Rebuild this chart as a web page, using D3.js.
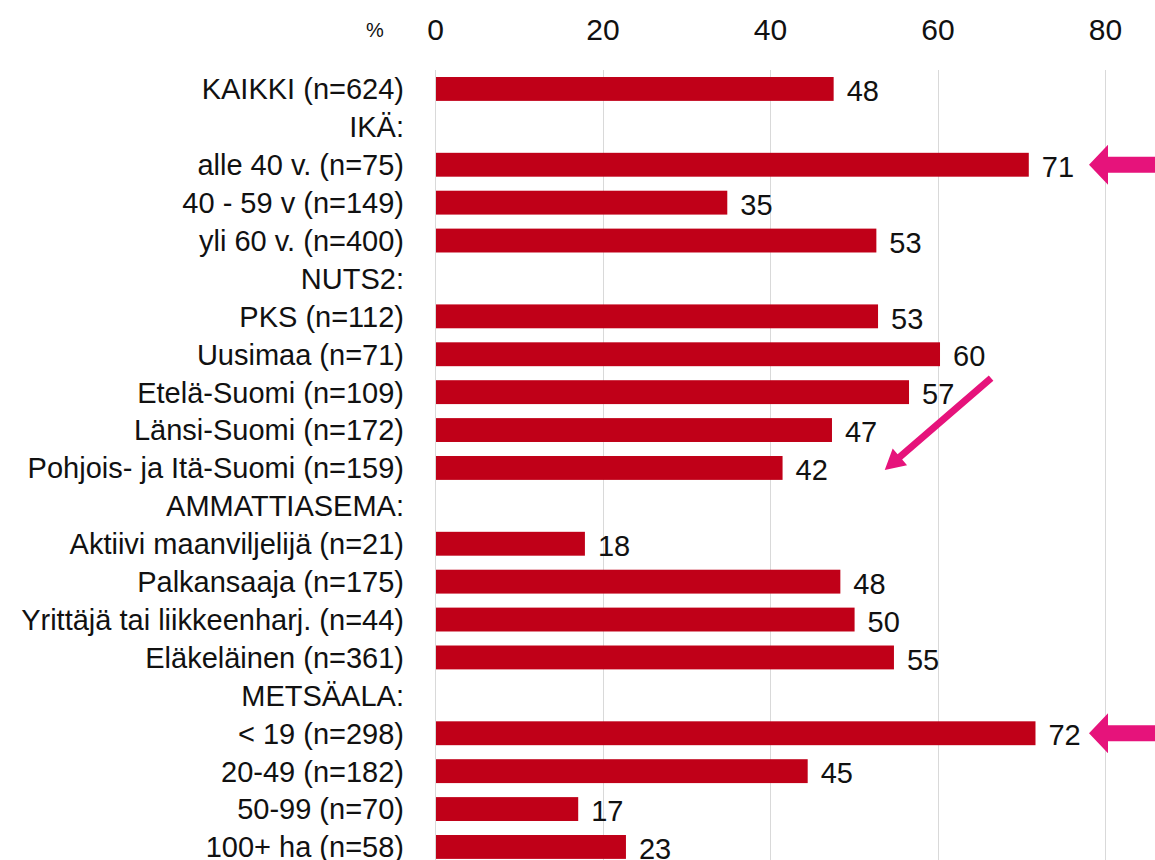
<!DOCTYPE html>
<meta charset="utf-8">
<title>Osuus ryhmittäin</title>
<style>
body { margin: 0; background: #fff; }
text { font-family: "Liberation Sans", Arial, sans-serif; fill: #111; }
.grid line { stroke: #d9d9d9; stroke-width: 1; }
</style>
<svg width="1155" height="860"></svg>
<script src="https://d3js.org/d3.v7.min.js"></script>
<script>

// rivit ylhäältä alas, null = otsikkorivi ilman palkkia
var categories = [
  "KAIKKI (n=624)", "IKÄ:", "alle 40 v. (n=75)", "40 - 59 v (n=149)", "yli 60 v. (n=400)",
  "NUTS2:", "PKS (n=112)", "Uusimaa (n=71)", "Etelä-Suomi (n=109)", "Länsi-Suomi (n=172)",
  "Pohjois- ja Itä-Suomi (n=159)", "AMMATTIASEMA:", "Aktiivi maanviljelijä (n=21)",
  "Palkansaaja (n=175)", "Yrittäjä tai liikkeenharj. (n=44)", "Eläkeläinen (n=361)",
  "METSÄALA:", "< 19 (n=298)", "20-49 (n=182)", "50-99 (n=70)", "100+ ha (n=58)"
];
// palkkien pituudet luettu kuvasta, tarrat pyöristettyinä
var values = [47.6, null, 70.9, 34.9, 52.7, null, 52.9, 60.3, 56.6, 47.4, 41.5, null,
  17.9, 48.4, 50.1, 54.8, null, 71.7, 44.5, 17.1, 22.8];
var ticks = [0, 20, 40, 60, 80];

// rivit joihin nuolet osoittavat
var arrowRows = ["alle 40 v. (n=75)", "< 19 (n=298)"];

var svg = d3.select("svg"),
    width = +svg.attr("width"),
    height = +svg.attr("height");

var rows = categories.map(function(c, i) { return { label: c, value: values[i], idx: i }; });

var x = d3.scaleLinear().domain([0, 80]).range([435, 1105]);
var y = d3.scaleBand()
    .domain(d3.range(categories.length))
    .range([70, 70 + categories.length * 37.9])
    .paddingInner(0.37)
    .paddingOuter(0.185);

//gridlines
svg.append("g")
    .attr("class", "grid")
  .selectAll("line")
  .data(ticks)
  .enter().append("line")
    .attr("x1", function(d) { return Math.round(x(d)) + 0.5; })
    .attr("x2", function(d) { return Math.round(x(d)) + 0.5; })
    .attr("y1", 70)
    .attr("y2", height);

//top axis labels
var axis = d3.axisTop(x).tickValues(ticks).tickSize(0).tickPadding(0);
var ax = svg.append("g")
    .attr("transform", "translate(0,40)")
    .call(axis);
ax.select(".domain").remove();
ax.selectAll("text")
    .attr("fill", "#111")
    .style("font-size", "30px")
    .style("font-family", "'Liberation Sans', Arial, sans-serif");

svg.append("text")
    .attr("x", x(0) - 60)
    .attr("y", 37)
    .attr("text-anchor", "middle")
    .style("font-size", "20px")
    .text("%");

//category labels
svg.append("g")
  .selectAll("text")
  .data(rows)
  .enter().append("text")
    .attr("x", x(0) - 31)
    .attr("y", function(d) { return y(d.idx) + y.bandwidth() / 2; })
    .attr("dy", "0.36em")
    .attr("text-anchor", "end")
    .style("font-size", "29px")
    .text(function(d) { return d.label; });

var barRows = rows.filter(function(d) { return d.value !== null; });

//bars
svg.append("g")
  .selectAll("rect")
  .data(barRows)
  .enter().append("rect")
    .attr("x", x(0) + 1)
    .attr("y", function(d) { return y(d.idx); })
    .attr("width", function(d) { return x(d.value) - x(0) - 1; })
    .attr("height", y.bandwidth())
    .attr("fill", "#c00018");

//value labels
svg.append("g")
  .selectAll("text")
  .data(barRows)
  .enter().append("text")
    .attr("x", function(d) { return x(d.value) + 13; })
    .attr("y", function(d) { return y(d.idx) + y.bandwidth() / 2; })
    .attr("dy", "0.42em")
    .style("font-size", "29px")
    .text(function(d) { return Math.round(d.value); });

//arrows
var pink = "#e6137b";
arrowRows.forEach(function(r) {
  var cy = y(categories.indexOf(r)) + y.bandwidth() / 2;
  var tip = x(80) - 16, base = tip + 19;
  svg.append("path")
      .attr("d", "M" + tip + "," + cy +
        "L" + base + "," + (cy - 20) +
        "L" + base + "," + (cy - 8) +
        "L" + width + "," + (cy - 8) +
        "L" + width + "," + (cy + 8) +
        "L" + base + "," + (cy + 8) +
        "L" + base + "," + (cy + 20) + "Z")
      .attr("fill", pink);
});

// diagonal arrow towards Pohjois- ja Itä-Suomi
var i8 = categories.indexOf("Etelä-Suomi (n=109)"),
    i10 = categories.indexOf("Pohjois- ja Itä-Suomi (n=159)");
var sx = x(66.4), sy = y(i8) + y.bandwidth() / 2 - 14,
    ex = x(53.7), ey = y(i10) + y.bandwidth() / 2 + 2;
var dx = ex - sx, dy = ey - sy, len = Math.sqrt(dx * dx + dy * dy);
var ux = dx / len, uy = dy / len, nx = -uy, ny = ux;
var hl = 20, hw = 11, sw = 3.5;
var bx = ex - ux * hl, by = ey - uy * hl;
var pts = [
  [sx + nx * sw, sy + ny * sw],
  [bx + nx * sw, by + ny * sw],
  [bx + nx * hw, by + ny * hw],
  [ex, ey],
  [bx - nx * hw, by - ny * hw],
  [bx - nx * sw, by - ny * sw],
  [sx - nx * sw, sy - ny * sw]
];
svg.append("path")
    .attr("d", "M" + pts.map(function(p) { return p.join(","); }).join("L") + "Z")
    .attr("fill", pink);

</script>
